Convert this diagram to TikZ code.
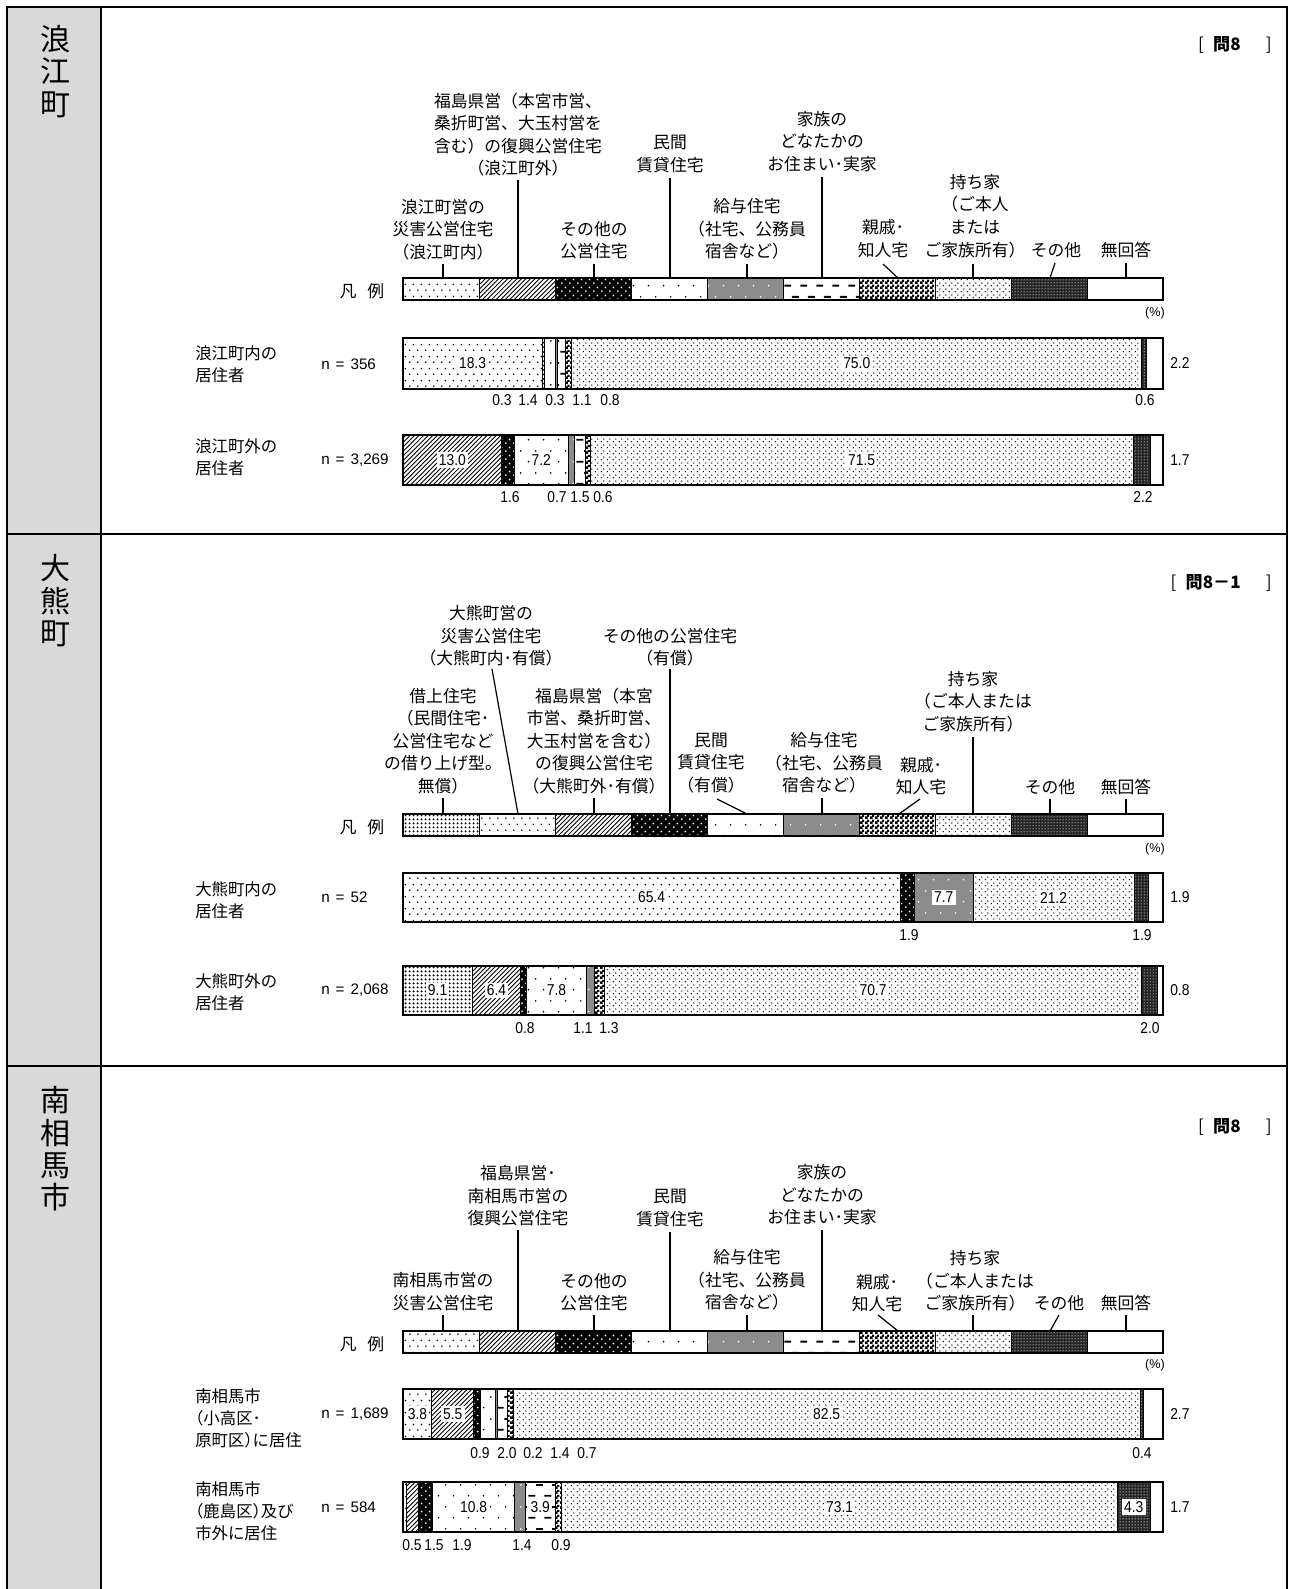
\documentclass[tikz,border=0pt]{standalone}
\usepackage{fontspec}
\setmainfont{Liberation Sans}
\newfontfamily\jp{Noto Sans CJK JP}
\newfontfamily\jph{Noto Sans CJK JP}[RawFeature=+halt]
\newfontfamily\nnum{Liberation Sans}[FakeStretch=0.88]
\usetikzlibrary{patterns}

% sparse dots
\pgfdeclarepatternformonly{pA}{\pgfpointorigin}{\pgfqpoint{6pt}{9pt}}{\pgfqpoint{6pt}{9pt}}{%
  \pgfpathcircle{\pgfqpoint{1.5pt}{2.25pt}}{0.7pt}%
  \pgfpathcircle{\pgfqpoint{4.5pt}{6.75pt}}{0.7pt}%
  \pgfusepath{fill}}
% north east lines
\pgfdeclarepatternformonly{pB}{\pgfqpoint{-1pt}{-1pt}}{\pgfqpoint{4.5pt}{4.5pt}}{\pgfqpoint{3.4pt}{3.4pt}}{%
  \pgfsetlinewidth{0.65pt}%
  \pgfpathmoveto{\pgfqpoint{0pt}{0pt}}\pgfpathlineto{\pgfqpoint{3.5pt}{3.5pt}}%
  \pgfusepath{stroke}}
% white dots (on black)
\pgfdeclarepatternformonly{pW}{\pgfpointorigin}{\pgfqpoint{6pt}{6pt}}{\pgfqpoint{6pt}{6pt}}{%
  \pgfpathcircle{\pgfqpoint{1.5pt}{1.5pt}}{0.75pt}%
  \pgfpathcircle{\pgfqpoint{4.5pt}{4.5pt}}{0.75pt}%
  \pgfusepath{fill}}
% very sparse dots
\pgfdeclarepatternformonly{pD}{\pgfpointorigin}{\pgfqpoint{11.25pt}{16.5pt}}{\pgfqpoint{11.25pt}{16.5pt}}{%
  \pgfpathcircle{\pgfqpoint{2.8pt}{4.1pt}}{0.7pt}%
  \pgfpathcircle{\pgfqpoint{8.4pt}{12.4pt}}{0.7pt}%
  \pgfusepath{fill}}
% dashes
\pgfdeclarepatternformonly{pF}{\pgfpointorigin}{\pgfqpoint{12pt}{16.5pt}}{\pgfqpoint{12pt}{16.5pt}}{%
  \pgfpathrectangle{\pgfqpoint{0.3pt}{3.4pt}}{\pgfqpoint{5.4pt}{1.4pt}}%
  \pgfpathrectangle{\pgfqpoint{6.3pt}{11.65pt}}{\pgfqpoint{5.4pt}{1.4pt}}%
  \pgfusepath{fill}}
% checker
\pgfdeclarepatternformonly{pG}{\pgfpointorigin}{\pgfqpoint{3.75pt}{3.75pt}}{\pgfqpoint{3.75pt}{3.75pt}}{%
  \pgfpathrectangle{\pgfpointorigin}{\pgfqpoint{2.25pt}{2.25pt}}%
  \pgfpathrectangle{\pgfqpoint{1.875pt}{1.875pt}}{\pgfqpoint{1.875pt}{1.875pt}}%
  \pgfusepath{fill}}
% fine dots
\pgfdeclarepatternformonly{pH}{\pgfpointorigin}{\pgfqpoint{4.5pt}{4.5pt}}{\pgfqpoint{4.5pt}{4.5pt}}{%
  \pgfpathcircle{\pgfqpoint{1.1pt}{1.1pt}}{0.62pt}%
  \pgfpathcircle{\pgfqpoint{3.35pt}{3.35pt}}{0.62pt}%
  \pgfusepath{fill}}
% tiny white grid dots
\pgfdeclarepatternformonly{pI}{\pgfpointorigin}{\pgfqpoint{2.25pt}{2.25pt}}{\pgfqpoint{2.25pt}{2.25pt}}{%
  \pgfpathcircle{\pgfqpoint{1.1pt}{1.1pt}}{0.5pt}%
  \pgfusepath{fill}}
% dense dots (borrowed housing)
\pgfdeclarepatternformonly{pK}{\pgfpointorigin}{\pgfqpoint{3pt}{3pt}}{\pgfqpoint{3pt}{3pt}}{%
  \pgfpathcircle{\pgfqpoint{1.5pt}{1.5pt}}{0.95pt}%
  \pgfusepath{fill}}

\tikzset{
  c1/.style={pattern=pA},
  c2/.style={pattern=pB},
  c3/.style={fill=black,postaction={pattern=pW,pattern color=white}},
  c4/.style={pattern=pD},
  c5/.style={fill=black!45,postaction={pattern=pD,pattern color=white}},
  c6/.style={pattern=pF},
  c7/.style={pattern=pG},
  c8/.style={pattern=pH},
  c9/.style={fill=black!85,postaction={pattern=pI,pattern color=white}},
  c0/.style={fill=white},
  k1/.style={pattern=pK},
  segline/.style={draw=black,line width=0.6pt},
  barline/.style={draw=black,line width=1.1pt},
  lead/.style={draw=black,line width=0.9pt},
  frame/.style={draw=black,line width=1.9pt},
  lab/.style={font=\jp\fontsize{12.6}{16.9}\selectfont,align=center,inner sep=0pt},
  rowlab/.style={font=\jph\fontsize{12.3}{16.5}\selectfont,align=left,anchor=west,inner sep=0pt},
  nlab/.style={font=\fontsize{11.4}{12}\selectfont,anchor=west,inner sep=0pt},
  vlab/.style={font=\nnum\fontsize{11.8}{12}\selectfont,anchor=west,inner sep=0pt},
  num/.style={font=\nnum\fontsize{11.8}{12}\selectfont,inner sep=0pt},
  inlab/.style={font=\nnum\fontsize{11.8}{12}\selectfont,fill=white,inner sep=1.6pt},
  pct/.style={font=\fontsize{9.5}{10}\selectfont,inner sep=0pt},
  ttl/.style={font=\jp\fontsize{22.5}{24.3}\selectfont,align=center,inner sep=0pt},
  qlab/.style={font=\jp\fontsize{12.8}{14}\selectfont,anchor=east,inner sep=0pt},
}

\newcommand\stackbar[4]{%
  \gdef\curx{403}%
  \foreach \p/\v/\l [count=\i] in {#4} {%
    \pgfmathsetmacro\nx{\curx+7.6*\v}%
    \fill[\p] (\curx,#2) rectangle (\nx,#3);%
    \draw[segline] (\curx,#2) rectangle (\nx,#3);%
    \ifnum\l=1\relax
      \node[inlab] (#1-\i) at ({(\curx+\nx)/2},{(#2+#3)/2}) {\v};%
    \fi
    \xdef\curx{\nx}%
  }%
  \draw[barline] (403,#2) rectangle (1163,#3);%
}
\newcommand\leader[5]{%
  \coordinate (#1a) at (#2,#3);
  \coordinate (#1b) at (#4,#5);
  \draw[lead] (#1a) -- (#1b);
}

\begin{document}
\begin{tikzpicture}[x=0.75pt,y=-0.75pt]
\useasboundingbox (0,0) rectangle (1293,1589);
\fill[white] (0,0) rectangle (1293,1589);

% ---------- frame ----------
\fill[black!15] (7,7) rectangle (101,1589);
\draw[frame] (7,1589) -- (7,7) -- (1287,7) -- (1287,1589);
\draw[frame] (101,7) -- (101,1589);
\draw[frame] (7,534) -- (1287,534);
\draw[frame] (7,1066) -- (1287,1066);

\node[ttl] (t1) at (55,71.5) {浪\\江\\町};
\node[ttl] (t2) at (55,601) {大\\熊\\町};
\node[ttl] (t3) at (55,1149) {南\\相\\馬\\市};

\node[qlab] (q1) at (1272,45) {[\hspace{7pt}{\bfseries 問8}\hspace{19pt}]};
\node[qlab] (q2) at (1272,583) {[\hspace{7pt}{\bfseries 問8－1}\hspace{19pt}]};
\node[qlab] (q3) at (1272,1127) {[\hspace{7pt}{\bfseries 問8}\hspace{19pt}]};

% ================= Section 1 : Namie =================
\node[lab] (a1) at (443,229.5) {浪江町営の\\災害公営住宅\\（浪江町内）};
\node[lab] (a2) at (518,134.5) {福島県営（本宮市営、\\桑折町営、大玉村営を\\含む）の復興公営住宅\\（浪江町外）};
\node[lab] (a3) at (594,240) {その他の\\公営住宅};
\node[lab] (a4) at (670,154) {民間\\賃貸住宅};
\node[lab] (a5) at (747,229) {給与住宅\\（社宅、公務員\\宿舎など）};
\node[lab] (a6) at (822,141.5) {家族の\\どなたかの\\お住まい･実家};
\node[lab] (a7) at (883,238.5) {親戚･\\知人宅};
\node[lab] (a8) at (975,216) {持ち家\\（ご本人\\または\\ご家族所有）};
\node[lab] (a9) at (1056,250) {その他};
\node[lab] (a10) at (1126,250) {無回答};
\leader{la1}{443}{264}{443}{278}
\leader{la2}{518}{180}{518}{278}
\leader{la3}{594}{264}{594}{278}
\leader{la4}{670}{178}{670}{278}
\leader{la5}{747}{264}{747}{278}
\leader{la6}{822}{177}{822}{278}
\leader{la7}{883}{264}{898}{278}
\leader{la8}{973}{264}{973}{278}
\leader{la9}{1055}{263}{1050}{278}
\leader{la10}{1126}{263}{1126}{278}

\node[lab] (h1) at (362,291) {凡\hspace{8pt}例};
\stackbar{L1}{278}{300}{c1/10/0,c2/10/0,c3/10/0,c4/10/0,c5/10/0,c6/10/0,c7/10/0,c8/10/0,c9/10/0,c0/10/0}
\node[pct] (p1) at (1155,313) {(\%)};

\node[rowlab] (r11) at (195,364) {浪江町内の\\居住者};
\node[nlab] (n11) at (321,364) {n\hspace{4.5pt}=\hspace{4.5pt}356};
\stackbar{B11}{338}{389}{c1/18.3/1,c2/0.3/0,c4/1.4/0,c5/0.3/0,c6/1.1/0,c7/0.8/0,c8/75.0/1,c9/0.6/0,c0/2.2/0}
\node[vlab] (v11) at (1170,363.5) {2.2};
\node[num] (u111) at (502,400) {0.3};
\node[num] (u112) at (528,400) {1.4};
\node[num] (u113) at (555,400) {0.3};
\node[num] (u114) at (582,400) {1.1};
\node[num] (u115) at (610,400) {0.8};
\node[num] (u116) at (1145,400) {0.6};

\node[rowlab] (r12) at (195,457.5) {浪江町外の\\居住者};
\node[nlab] (n12) at (321,460) {n\hspace{4.5pt}=\hspace{4.5pt}3,269};
\stackbar{B12}{435}{485}{c2/13.0/1,c3/1.6/0,c4/7.2/1,c5/0.7/0,c6/1.5/0,c7/0.6/0,c8/71.5/1,c9/2.2/0,c0/1.7/0}
\node[vlab] (v12) at (1170,460) {1.7};
\node[num] (u121) at (510,497) {1.6};
\node[num] (u122) at (557,497) {0.7};
\node[num] (u123) at (580,497) {1.5};
\node[num] (u124) at (603,497) {0.6};
\node[num] (u125) at (1143,497) {2.2};

% ================= Section 2 : Okuma =================
\node[lab] (b1) at (443,741) {借上住宅\\（民間住宅･\\公営住宅など\\の借り上げ型。\\無償）};
\node[lab] (b2) at (491,636) {大熊町営の\\災害公営住宅\\（大熊町内･有償）};
\node[lab] (b3) at (594,741) {福島県営（本宮\\市営、桑折町営、\\大玉村営を含む）\\の復興公営住宅\\（大熊町外･有償）};
\node[lab] (b4) at (670,647) {その他の公営住宅\\（有償）};
\node[lab] (b5) at (711,763) {民間\\賃貸住宅\\（有償）};
\node[lab] (b6) at (824,763) {給与住宅\\（社宅、公務員\\宿舎など）};
\node[lab] (b7) at (921,776) {親戚･\\知人宅};
\node[lab] (b8) at (973,701.5) {持ち家\\（ご本人または\\ご家族所有）};
\node[lab] (b9) at (1050,787) {その他};
\node[lab] (b10) at (1126,787) {無回答};
\leader{lb1}{443}{798}{443}{814}
\leader{lb2}{492}{669}{518}{814}
\leader{lb3}{594}{798}{594}{814}
\leader{lb4}{670}{669}{670}{814}
\leader{lb5}{717}{799}{747}{814}
\leader{lb6}{822}{798}{822}{814}
\leader{lb7}{920}{799}{899}{814}
\leader{lb8}{973}{737}{973}{814}
\leader{lb9}{1050}{799}{1050}{814}
\leader{lb10}{1126}{799}{1126}{814}

\node[lab] (h2) at (362,827) {凡\hspace{8pt}例};
\stackbar{L2}{814}{836}{k1/10/0,c1/10/0,c2/10/0,c3/10/0,c4/10/0,c5/10/0,c7/10/0,c8/10/0,c9/10/0,c0/10/0}
\node[pct] (p2) at (1155,849) {(\%)};

\node[rowlab] (r21) at (195,900) {大熊町内の\\居住者};
\node[nlab] (n21) at (321,897) {n\hspace{4.5pt}=\hspace{4.5pt}52};
\stackbar{B21}{873}{922}{c1/65.4/1,c3/1.9/0,c5/7.7/1,c8/21.2/1,c9/1.9/0,c0/1.9/0}
\node[vlab] (v21) at (1170,897) {1.9};
\node[num] (u211) at (909,935) {1.9};
\node[num] (u212) at (1142,935) {1.9};

\node[rowlab] (r22) at (195,992.5) {大熊町外の\\居住者};
\node[nlab] (n22) at (321,990) {n\hspace{4.5pt}=\hspace{4.5pt}2,068};
\stackbar{B22}{966}{1015}{k1/9.1/1,c2/6.4/1,c3/0.8/0,c4/7.8/1,c5/1.1/0,c7/1.3/0,c8/70.7/1,c9/2.0/0,c0/0.8/0}
\node[vlab] (v22) at (1170,990) {0.8};
\node[num] (u221) at (525,1028) {0.8};
\node[num] (u222) at (583,1028) {1.1};
\node[num] (u223) at (609,1028) {1.3};
\node[num] (u224) at (1150,1028) {2.0};

% ================= Section 3 : Minamisoma =================
\node[lab] (m1) at (443,1291.5) {南相馬市営の\\災害公営住宅};
\node[lab] (m2) at (518,1196) {福島県営･\\南相馬市営の\\復興公営住宅};
\node[lab] (m3) at (594,1292) {その他の\\公営住宅};
\node[lab] (m4) at (670,1208) {民間\\賃貸住宅};
\node[lab] (m5) at (747,1280) {給与住宅\\（社宅、公務員\\宿舎など）};
\node[lab] (m6) at (822,1195) {家族の\\どなたかの\\お住まい･実家};
\node[lab] (m7) at (877,1293) {親戚･\\知人宅};
\node[lab] (m8) at (975,1281) {持ち家\\（ご本人または\\ご家族所有）};
\node[lab] (m9) at (1059,1303) {その他};
\node[lab] (m10) at (1126,1303) {無回答};
\leader{lc1}{443}{1315}{443}{1331}
\leader{lc2}{518}{1230}{518}{1331}
\leader{lc3}{594}{1315}{594}{1331}
\leader{lc4}{670}{1232}{670}{1331}
\leader{lc5}{747}{1315}{747}{1331}
\leader{lc6}{822}{1230}{822}{1331}
\leader{lc7}{878}{1315}{898}{1331}
\leader{lc8}{973}{1315}{973}{1331}
\leader{lc9}{1059}{1315}{1050}{1331}
\leader{lc10}{1126}{1315}{1126}{1331}

\node[lab] (h3) at (362,1344) {凡\hspace{8pt}例};
\stackbar{L3}{1331}{1353}{c1/10/0,c2/10/0,c3/10/0,c4/10/0,c5/10/0,c6/10/0,c7/10/0,c8/10/0,c9/10/0,c0/10/0}
\node[pct] (p3) at (1155,1365) {(\%)};

\node[rowlab] (r31) at (195,1418.5) {南相馬市\\（小高区･\\原町区）に居住};
\node[nlab] (n31) at (321,1414) {n\hspace{4.5pt}=\hspace{4.5pt}1,689};
\stackbar{B31}{1389}{1439}{c1/3.8/1,c2/5.5/1,c3/0.9/0,c4/2.0/0,c5/0.2/0,c6/1.4/0,c7/0.7/0,c8/82.5/1,c9/0.4/0,c0/2.6/0}
\node[vlab] (v31) at (1170,1414) {2.7};
\node[num] (u311) at (480,1453) {0.9};
\node[num] (u312) at (507,1453) {2.0};
\node[num] (u313) at (533,1453) {0.2};
\node[num] (u314) at (560,1453) {1.4};
\node[num] (u315) at (587,1453) {0.7};
\node[num] (u316) at (1142,1453) {0.4};

\node[rowlab] (r32) at (195,1511) {南相馬市\\（鹿島区）及び\\市外に居住};
\node[nlab] (n32) at (321,1507) {n\hspace{4.5pt}=\hspace{4.5pt}584};
\stackbar{B32}{1482}{1532}{c1/0.5/0,c2/1.5/0,c3/1.9/0,c4/10.8/1,c5/1.4/0,c6/3.9/1,c7/0.9/0,c8/73.1/1,c9/4.3/1,c0/1.7/0}
\node[vlab] (v32) at (1170,1507) {1.7};
\node[num] (u321) at (412,1545) {0.5};
\node[num] (u322) at (434,1545) {1.5};
\node[num] (u323) at (462,1545) {1.9};
\node[num] (u324) at (522,1545) {1.4};
\node[num] (u325) at (561,1545) {0.9};
\end{tikzpicture}
\end{document}
